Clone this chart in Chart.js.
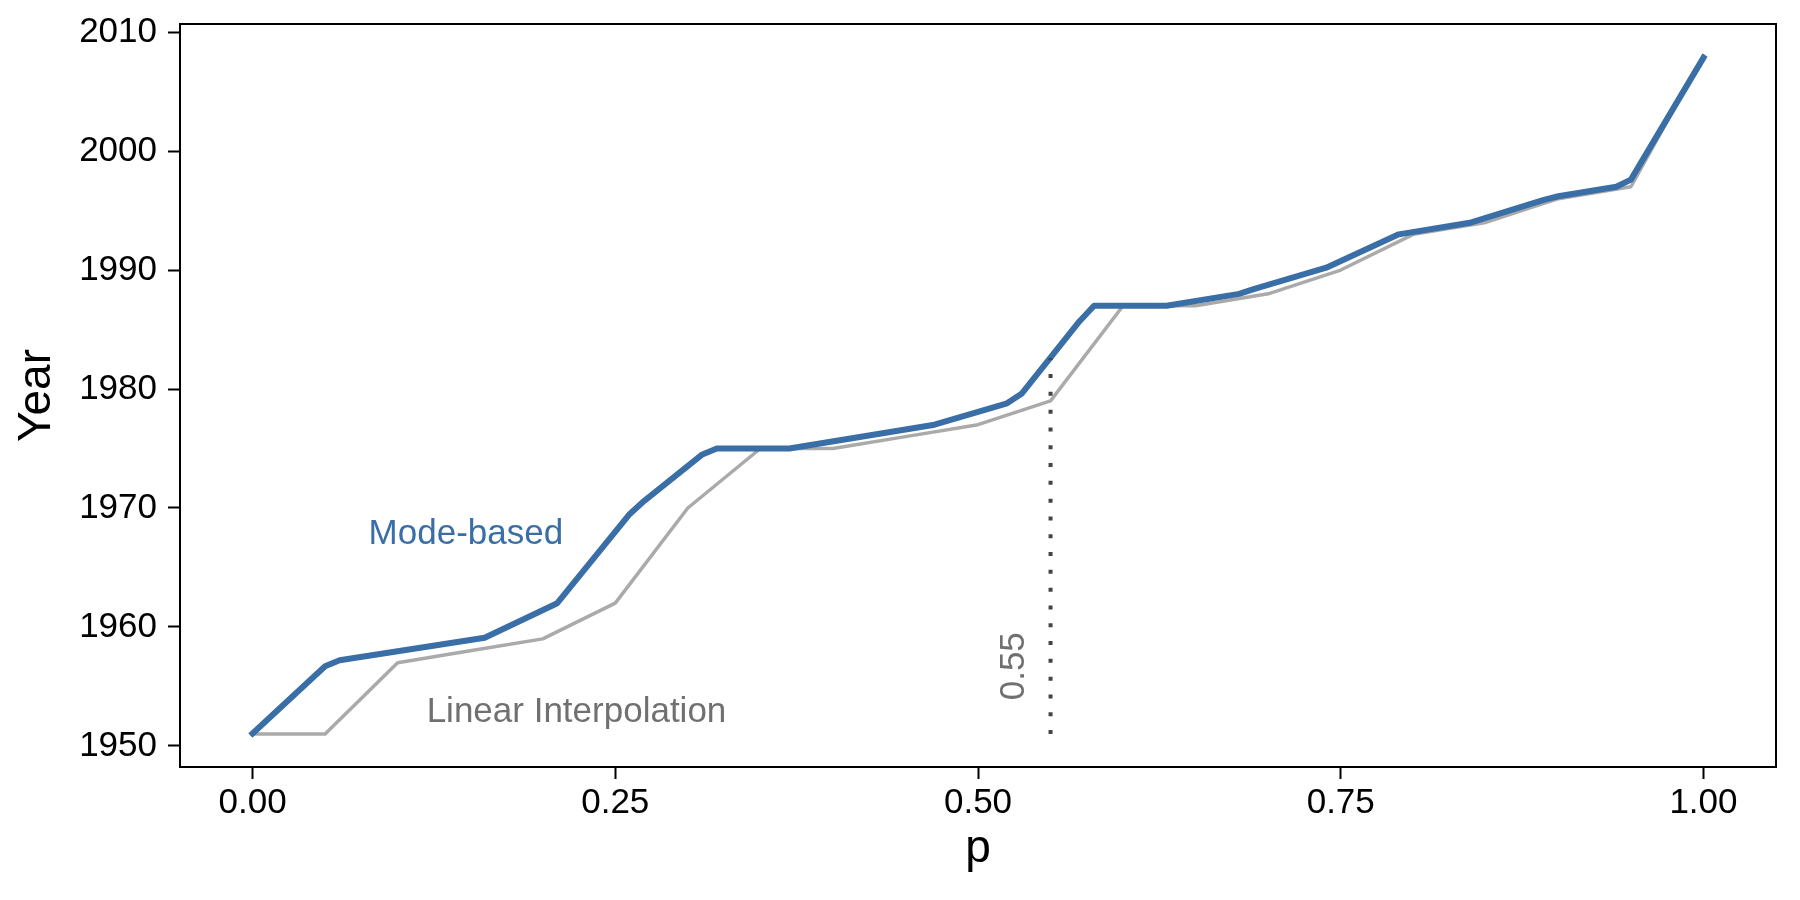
<!DOCTYPE html>
<html>
<head>
<meta charset="utf-8">
<script src="https://cdn.jsdelivr.net/npm/chart.js@4/dist/chart.umd.min.js"></script>
<style>
html,body{margin:0;padding:0;background:#ffffff;}
canvas{display:block;}
</style>
</head>
<body>
<canvas id="c" width="1800" height="900"></canvas>
<script>
// ---- data ----
const linearP = [0, 0.05, 0.10, 0.15, 0.20, 0.25, 0.30, 0.35, 0.40, 0.45, 0.50, 0.55, 0.60, 0.65, 0.70, 0.75, 0.80, 0.85, 0.90, 0.95, 1.00];
const linearYears = [1951, 1951, 1957, 1958, 1959, 1962, 1970, 1975, 1975, 1976, 1977, 1979, 1987, 1987, 1988, 1990, 1993, 1994, 1996, 1997, 2008];

const modeP = [0, 0.05, 0.06, 0.15, 0.16, 0.21, 0.26, 0.27, 0.31, 0.32, 0.37, 0.47, 0.52, 0.53, 0.57, 0.58, 0.63, 0.68, 0.69, 0.74, 0.79, 0.84, 0.89, 0.90, 0.94, 0.95, 1.00];
const modeYears = [1951.05, 1956.7, 1957.2, 1958.9, 1959.1, 1962.0, 1969.5, 1970.6, 1974.5, 1975.0, 1975.0, 1977.0, 1978.8, 1979.6, 1985.7, 1987.0, 1987.0, 1988.0, 1988.4, 1990.2, 1993.0, 1994.0, 1995.9, 1996.2, 1997.0, 1997.6, 2007.85];

const markerP = [0.55, 0.55];
const markerYears = [1951, 1982.6];
const markerLabel = '0.55';

const xTickValues = [0, 0.25, 0.50, 0.75, 1.00];
const xTickLabels = ['0.00', '0.25', '0.50', '0.75', '1.00'];
const yTickValues = [1950, 1960, 1970, 1980, 1990, 2000, 2010];
const yTickLabels = ['1950', '1960', '1970', '1980', '1990', '2000', '2010'];

const seriesNames = ['Mode-based', 'Linear Interpolation'];

// ---- styles ----
const BLUE = 'rgb(58,110,166)';
const LINE_GRAY = '#aaaaaa';
const TEXT_GRAY = '#707070';
const DOT_COLOR = '#444444';
const FONT = "'Liberation Sans', Arial, Helvetica, sans-serif";

const toXY = (xs, ys) => xs.map((v, i) => ({x: v, y: ys[i]}));

const overlay = {
  id: 'overlay',
  afterDatasetsDraw(chart) {
    const {ctx, chartArea: a, scales: {x, y}} = chart;
    ctx.save();
    ctx.font = '35px ' + FONT;
    ctx.textBaseline = 'alphabetic';
    ctx.textAlign = 'left';
    ctx.fillStyle = BLUE;
    ctx.fillText(seriesNames[0], x.getPixelForValue(0.08), y.getPixelForValue(1967));
    ctx.fillStyle = TEXT_GRAY;
    ctx.fillText(seriesNames[1], x.getPixelForValue(0.12), y.getPixelForValue(1952));
    ctx.translate(x.getPixelForValue(0.532), y.getPixelForValue(1956.7));
    ctx.rotate(-Math.PI / 2);
    ctx.textAlign = 'center';
    ctx.fillText(markerLabel, 0, 0);
    ctx.restore();

    ctx.save();
    ctx.strokeStyle = '#000';
    ctx.lineWidth = 2;
    ctx.strokeRect(a.left, a.top, a.right - a.left, a.bottom - a.top);
    ctx.restore();
  }
};

new Chart(document.getElementById('c'), {
  type: 'line',
  data: {
    datasets: [
      {
        label: 'marker',
        data: toXY(markerP, markerYears),
        borderColor: DOT_COLOR,
        borderWidth: 4,
        borderDash: [4, 13.8],
        borderCapStyle: 'butt',
        pointRadius: 0,
        order: 0
      },
      {
        label: seriesNames[0],
        data: toXY(modeP, modeYears),
        borderColor: BLUE,
        borderWidth: 6,
        borderJoinStyle: 'round',
        borderCapStyle: 'square',
        pointRadius: 0,
        tension: 0,
        order: 1
      },
      {
        label: seriesNames[1],
        data: toXY(linearP, linearYears),
        borderColor: LINE_GRAY,
        borderWidth: 3.5,
        borderJoinStyle: 'round',
        borderCapStyle: 'square',
        pointRadius: 0,
        tension: 0,
        order: 2
      }
    ]
  },
  options: {
    responsive: false,
    devicePixelRatio: 1,
    animation: false,
    layout: {padding: {top: 24, right: 24, left: 0, bottom: 0}},
    plugins: {legend: {display: false}, tooltip: {enabled: false}},
    scales: {
      x: {
        type: 'linear',
        min: -0.05,
        max: 1.05,
        afterBuildTicks: s => { s.ticks = xTickValues.map(v => ({value: v})); },
        afterFit: s => { s.height = 133; s.paddingLeft = 0; s.paddingRight = 0; },
        grid: {drawOnChartArea: false, drawTicks: true, tickLength: 12, tickWidth: 2, tickColor: '#000'},
        border: {display: false},
        ticks: {
          color: '#000',
          font: {family: FONT, size: 35},
          padding: 3,
          maxRotation: 0,
          autoSkip: false,
          callback: v => { const i = xTickValues.indexOf(v); return i >= 0 ? xTickLabels[i] : ''; }
        },
        title: {display: true, text: 'p', color: '#000', font: {family: FONT, size: 46}, padding: {top: 0, bottom: 23}}
      },
      y: {
        type: 'linear',
        min: 1948.23,
        max: 2010.68,
        afterBuildTicks: s => { s.ticks = yTickValues.map(v => ({value: v})); },
        afterFit: s => { s.width = 180; s.paddingTop = 0; s.paddingBottom = 0; },
        grid: {drawOnChartArea: false, drawTicks: true, tickLength: 12, tickWidth: 2, tickColor: '#000'},
        border: {display: false},
        ticks: {
          color: '#000',
          font: {family: FONT, size: 35},
          padding: 11,
          autoSkip: false,
          callback: v => { const i = yTickValues.indexOf(v); return i >= 0 ? yTickLabels[i] : ''; }
        },
        title: {display: true, text: 'Year', color: '#000', font: {family: FONT, size: 46}, padding: {top: 10, bottom: 0}}
      }
    }
  },
  plugins: [overlay]
});
</script>
</body>
</html>
